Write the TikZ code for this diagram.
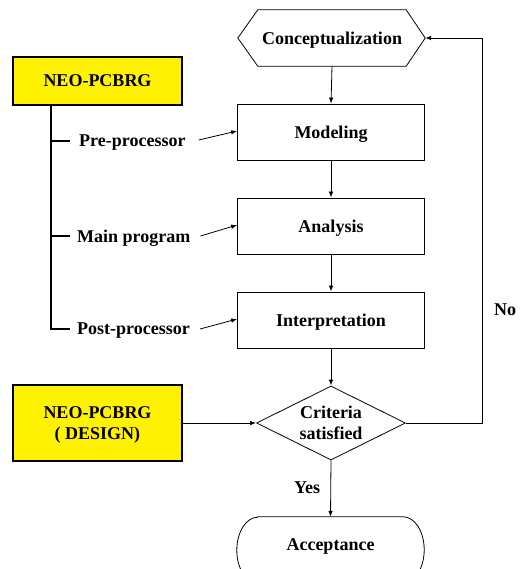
\documentclass[tikz,border=0pt]{standalone}
\usepackage{fontspec}
\setmainfont{Liberation Serif}
\usetikzlibrary{shapes.geometric,arrows.meta}
\begin{document}
\begin{tikzpicture}[x=1pt,y=-1pt,
 every node/.style={font=\fontsize{18}{21}\selectfont\bfseries, text depth=0pt},
 proc/.style={draw, line width=0.8pt, minimum width=187pt, minimum height=56pt, inner sep=0},
 ybox/.style={draw, line width=1.8pt, fill=yellow, minimum width=169pt, inner sep=0, align=center},
 arr/.style={-{Latex[length=6pt,width=4.5pt]}, line width=0.8pt},
 thin/.style={line width=0.8pt},
 tree/.style={line width=2pt},
 lbl/.style={inner sep=0}]
\useasboundingbox (0,0) rectangle (525,569);
\clip (0,0) rectangle (525,569);

% main column
\node[minimum width=148pt, minimum height=56pt, inner sep=0] (concept) at (332,38) {Conceptualization};
\draw[thin] (concept.north west) -- (concept.north east) -- ([xshift=19pt]concept.east)
  -- (concept.south east) -- (concept.south west) -- ([xshift=-20pt]concept.west) -- cycle;
\coordinate (conR) at ([xshift=19pt]concept.east);

\node[proc] (model) at (331,132) {Modeling};
\node[proc] (anal) at (331,226) {Analysis};
\node[proc] (interp) at (331,320) {Interpretation};
\node[draw, diamond, aspect=2, inner sep=0, minimum width=149pt, minimum height=74pt,
      thin, align=center] (crit) at (331,423) {Criteria\\satisfied};

\node[minimum width=187pt, minimum height=66pt, inner sep=0] (accept) at (330.5,550) {};
\draw[thin] ([xshift=21pt]accept.north west) -- ([xshift=-21pt]accept.north east)
  arc[start angle=90, end angle=-90, x radius=21pt, y radius=33pt]
  -- ([xshift=21pt]accept.south west)
  arc[start angle=270, end angle=90, x radius=21pt, y radius=33pt] -- cycle;
\node[lbl] (acceptT) at (330.5,545) {Acceptance};

\draw[arr] (concept.south) -- (model.north);
\draw[arr] (model.south) -- (anal.north);
\draw[arr] (anal.south) -- (interp.north);
\draw[arr] (interp.south) -- (crit.north);
\draw[arr] (crit.south) -- (accept.north);
\node[lbl] (yes) at (307,488) {Yes};

% feedback loop
\coordinate (fb) at (482,0);
\draw[arr] (crit.east) -- (crit.east -| fb) -- (conR -| fb) -- (conR);
\node[lbl] (no) at (505,310) {No};

% yellow boxes
\node[ybox, minimum height=48pt] (neo) at (97.5,81) {NEO-PCBRG};
\node[ybox, minimum height=76pt] (neod) at (97.5,423) {NEO-PCBRG\\( DESIGN)};
\draw[arr] (neod.east) -- (crit.west);

% tree
\coordinate (tb) at (51,329);
\coordinate (t1) at (51,141);
\coordinate (t2) at (51,236);
\draw[tree] (neo.south -| tb) -- (tb) -- ++(19,0);
\draw[tree] (t1) -- ++(19,0);
\draw[tree] (t2) -- ++(19,0);

\node[lbl, anchor=west] (pre) at (79,141) {Pre-processor};
\node[lbl, anchor=west] (mainp) at (77,236) {Main program};
\node[lbl, anchor=west] (post) at (77,329) {Post-processor};

\draw[arr] ([xshift=13pt,yshift=1pt]pre.east) -- ([yshift=1pt]model.west);
\draw[arr] ([xshift=10pt]mainp.east) -- ([yshift=1pt]anal.west);
\draw[arr] ([xshift=10pt]post.east) -- ([yshift=1pt]interp.west);
\end{tikzpicture}
\end{document}
